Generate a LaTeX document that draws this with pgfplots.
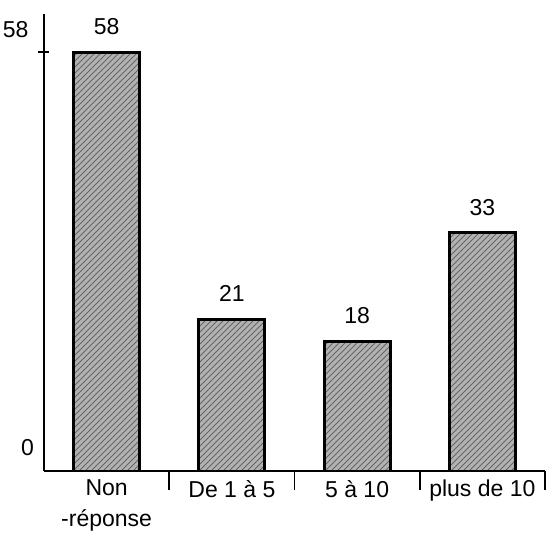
\documentclass[border=0pt]{standalone}
\usepackage{fontspec}
\setmainfont{Liberation Sans}
\usepackage{pgfplots}
\pgfplotsset{compat=1.18}
\usetikzlibrary{patterns}

\begin{document}
\fontsize{11.5}{15}\selectfont
\begin{tikzpicture}
% frame of the picture: 1 px of the reference = 0.5pt
\useasboundingbox (-22pt,-30.5pt) rectangle (252pt,235.5pt);
\begin{axis}[
    at={(0,0)}, anchor=south west,
    scale only axis,
    width=250.5pt, height=228.5pt,
    xmin=-0.5, xmax=3.5,
    ymin=0, ymax=63.3,
    axis lines*=left,
    axis line style={line width=1pt},
    xtick={0,1,2,3},
    xticklabels={{Non\\-réponse},{De 1 à 5},{5 à 10},{plus de 10}},
    xticklabel style={align=center, yshift=5pt,
        font={\fontsize{11.5}{15.5}\selectfont}},
    minor xtick={0.5,1.5,2.5,3.5},
    major x tick style={draw=none},
    minor x tick style={line width=0.8pt, black},
    minor tick length=9.5pt,
    ytick={58},
    extra y ticks={0},
    extra y tick style={major tick length=0pt},
    ytick style={line width=0.8pt, black},
    major tick length=5.5pt,
    tick align=center,
    yticklabel style={yshift=11.5pt, xshift=-1pt},
    /pgf/number format/assume math mode=true,
    ybar, bar width=33pt,
    nodes near coords,
    nodes near coords style={anchor=south, inner sep=0pt, yshift=8pt},
]
\addplot[draw=black, line width=1.5pt, fill=black!30,
    postaction={pattern=north east lines, pattern color=black!60}]
    coordinates {(0,58) (1,21) (2,18) (3,33)};
\end{axis}
\end{tikzpicture}
\end{document}
